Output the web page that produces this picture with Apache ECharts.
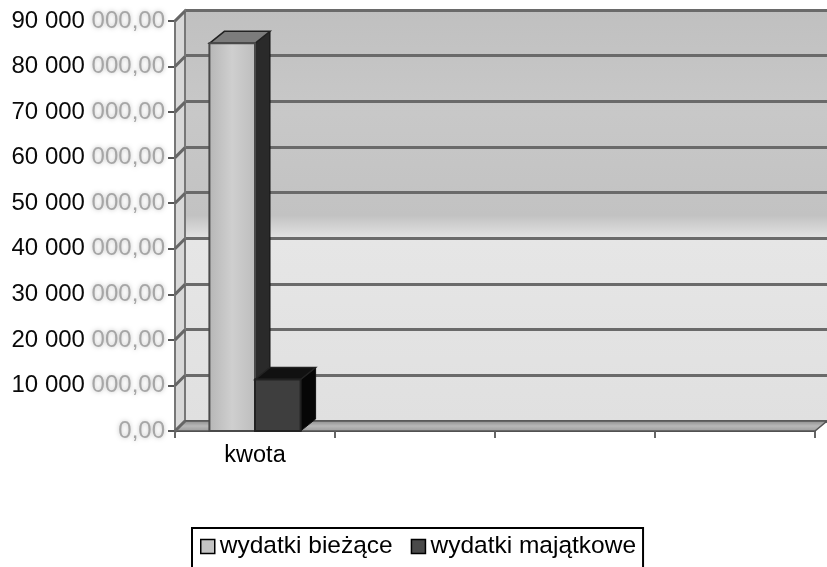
<!DOCTYPE html>
<html>
<head>
<meta charset="utf-8">
<script src="https://cdn.jsdelivr.net/npm/echarts@6/dist/echarts.min.js"></script>
<style>
  html, body { margin: 0; padding: 0; background: #fff; }
  #chart { width: 827px; height: 567px; }
</style>
</head>
<body>
<div id="chart"></div>
<script>
// dane wykresu
var categories = ['kwota', '', '', ''];
var seriesNames = ['wydatki bieżące', 'wydatki majątkowe'];
var wydatkiBiezace = [85100000];
var wydatkiMajatkowe = [11300000];
var yTicks = [0, 10000000, 20000000, 30000000, 40000000, 50000000, 60000000, 70000000, 80000000, 90000000];

var FONT = '"Liberation Sans", Arial, sans-serif';

// 90000000 -> "90 000 000,00"
function fmt(v) {
  var parts = v.toFixed(2).split('.');
  return parts[0].replace(/\B(?=(\d{3})+(?!\d))/g, ' ') + ',' + parts[1];
}

function yLabel(v) {
  var s = fmt(v);
  if (s.length <= 6) return '{g|' + s + '}';
  return '{k|' + s.slice(0, -6) + '}{g|' + s.slice(-6) + '}';
}

// słupek 3D rysowany na skali osi
function bar3d(side, colors) {
  return function (params, api) {
    var idx = api.value(0);
    var base = api.coord([idx, 0]);
    var top = api.coord([idx, api.value(1)]);
    var w = api.size([1, 0])[0] * 0.285;
    var x0 = side < 0 ? base[0] - w : base[0];
    var x1 = x0 + w;
    var dx = 15, dy = 12;
    return {
      type: 'group',
      children: [
        {
          type: 'polygon',
          shape: { points: [[x1, top[1]], [x1 + dx, top[1] - dy], [x1 + dx, base[1] - dy], [x1, base[1]]] },
          style: { fill: colors.side, stroke: '#111', lineWidth: 1 }
        },
        {
          type: 'polygon',
          shape: { points: [[x0, top[1]], [x0 + dx, top[1] - dy], [x1 + dx, top[1] - dy], [x1, top[1]]] },
          style: { fill: colors.top, stroke: '#222', lineWidth: 1.5 }
        },
        {
          type: 'rect',
          shape: { x: x0, y: top[1], width: w, height: base[1] - top[1] },
          style: { fill: colors.front, stroke: colors.edge, lineWidth: 2 }
        }
      ]
    };
  };
}

// lewa ściana, podłoga i skośne łączniki siatki
function frameItem(params, api) {
  var v = api.value(1);
  var bandW = api.size([1, 0])[0];
  var p = api.coord([0, v]);
  var left = p[0] - bandW / 2;
  var y = p[1];
  var ddx = 10, ddy = 10;
  var children = [];
  if (v === yTicks[0]) {
    var right = api.coord([categories.length - 1, v])[0] + bandW / 2;
    var topY = api.coord([0, yTicks[yTicks.length - 1]])[1];
    children.push({
      type: 'polygon',
      shape: { points: [[left, y], [left + ddx, y - ddy], [left + ddx, topY - ddy], [left, topY]] },
      style: { fill: '#d8d8d8', stroke: '#777', lineWidth: 2 }
    });
    children.push({
      type: 'polygon',
      shape: { points: [[left, y], [left + ddx, y - ddy], [right + ddx + 2, y - ddy], [right, y]] },
      style: {
        fill: new echarts.graphic.LinearGradient(0, 0, 0, 1, [
          { offset: 0, color: '#8a8a8a' }, { offset: 0.5, color: '#b8b8b8' }, { offset: 1, color: '#9a9a9a' }
        ]),
        stroke: '#555', lineWidth: 1.5
      }
    });
  }
  children.push({
    type: 'line',
    shape: { x1: left, y1: y, x2: left + ddx, y2: y - ddy },
    style: { stroke: '#666', lineWidth: 3 }
  });
  return { type: 'group', children: children };
}

var chart = echarts.init(document.getElementById('chart'));
chart.setOption({
  backgroundColor: '#ffffff',
  animation: false,
  grid: [
    { left: 175, right: 12, top: 21, bottom: 136, outerBoundsMode: 'none' },
    {
      left: 185, right: 0, top: 10, bottom: 146, outerBoundsMode: 'none',
      show: true, borderWidth: 0,
      backgroundColor: new echarts.graphic.LinearGradient(0, 0, 0, 1, [
        { offset: 0, color: '#c0c0c0' },
        { offset: 0.25, color: '#c8c8c8' },
        { offset: 0.5, color: '#c2c2c2' },
        { offset: 0.56, color: '#e6e6e6' },
        { offset: 1, color: '#e0e0e0' }
      ])
    }
  ],
  legend: {
    left: 192,
    top: 528,
    padding: [6, 7, 24, 8],
    borderColor: '#000',
    borderWidth: 2,
    itemWidth: 14,
    itemHeight: 14,
    itemGap: 18,
    textStyle: { fontFamily: FONT, fontSize: 24.5, color: '#000' },
    data: [
      { name: seriesNames[0], icon: 'rect', itemStyle: { color: '#c4c4c4', borderColor: '#000', borderWidth: 1.5 } },
      { name: seriesNames[1], icon: 'rect', itemStyle: { color: '#4a4a4a', borderColor: '#000', borderWidth: 1.5 } }
    ]
  },
  xAxis: [
    {
      type: 'category',
      gridIndex: 0,
      data: categories,
      boundaryGap: true,
      axisLine: { show: true, lineStyle: { color: '#444', width: 2 } },
      axisTick: { show: true, length: 7, lineStyle: { color: '#666', width: 2 } },
      axisLabel: {
        interval: 0,
        margin: 13,
        formatter: function (v) { return v ? '{c|' + v + '}' : ''; },
        rich: { c: { fontFamily: FONT, fontSize: 23.5, color: '#000' } }
      },
      splitLine: { show: false }
    },
    {
      type: 'category',
      gridIndex: 1,
      data: categories,
      show: false
    }
  ],
  yAxis: [
    {
      type: 'value',
      gridIndex: 0,
      min: 0,
      max: 90000000,
      interval: 10000000,
      axisLine: { show: true, lineStyle: { color: '#555', width: 3 } },
      axisTick: { show: true, length: 7, lineStyle: { color: '#555', width: 2 } },
      splitLine: { show: false },
      axisLabel: {
        margin: 10,
        formatter: yLabel,
        rich: {
          k: { fontFamily: FONT, fontSize: 24, color: '#0a0a0a' },
          g: { fontFamily: FONT, fontSize: 24, color: '#a6a6a6', textShadowColor: '#bdbdbd', textShadowBlur: 4 }
        }
      }
    },
    {
      type: 'value',
      gridIndex: 1,
      min: 0,
      max: 90000000,
      interval: 10000000,
      axisLine: { show: true, lineStyle: { color: '#7a7a7a', width: 2 } },
      axisTick: { show: false },
      axisLabel: { show: false },
      splitLine: { show: true, lineStyle: { color: '#6a6a6a', width: 3 } }
    }
  ],
  series: [
    {
      type: 'custom',
      name: 'frame',
      xAxisIndex: 0,
      yAxisIndex: 0,
      silent: true,
      z: 1,
      renderItem: frameItem,
      encode: { x: 0, y: 1 },
      data: yTicks.map(function (v) { return [0, v]; })
    },
    {
      type: 'custom',
      name: seriesNames[0],
      xAxisIndex: 0,
      yAxisIndex: 0,
      z: 3,
      itemStyle: { color: '#c4c4c4' },
      renderItem: bar3d(-1, {
        front: new echarts.graphic.LinearGradient(0, 0, 1, 0, [
          { offset: 0, color: '#b6b6b6' }, { offset: 0.5, color: '#cfcfcf' }, { offset: 1, color: '#bdbdbd' }
        ]),
        side: '#2a2a2a',
        top: '#7c7c7c',
        edge: '#4a4a4a'
      }),
      encode: { x: 0, y: 1 },
      data: wydatkiBiezace.map(function (v, i) { return [i, v]; })
    },
    {
      type: 'custom',
      name: seriesNames[1],
      xAxisIndex: 0,
      yAxisIndex: 0,
      z: 4,
      itemStyle: { color: '#4a4a4a' },
      renderItem: bar3d(1, {
        front: '#3e3e3e',
        side: '#060606',
        top: '#111111',
        edge: '#222'
      }),
      encode: { x: 0, y: 1 },
      data: wydatkiMajatkowe.map(function (v, i) { return [i, v]; })
    }
  ]
});
</script>
</body>
</html>
